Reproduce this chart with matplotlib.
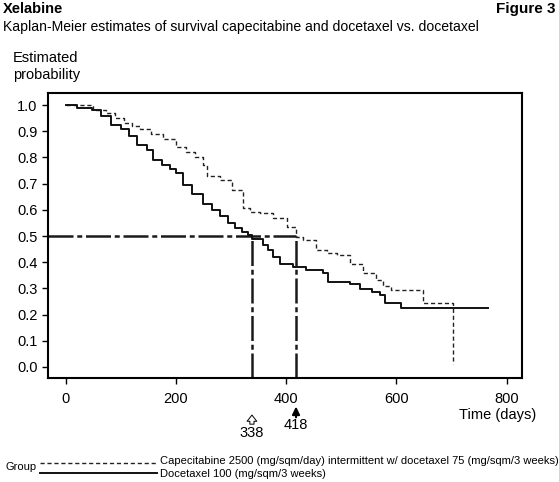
import numpy as np
import matplotlib
matplotlib.use("Agg")
import matplotlib.pyplot as plt

plt.rcParams['font.family'] = ['Liberation Sans Narrow', 'Liberation Sans', 'DejaVu Sans']

# Kaplan-Meier step points
# Docetaxel 100 (solid)
doc_t = [0, 20, 47, 65, 82, 101, 115, 129, 147, 159, 175, 190, 201, 213, 230, 250, 265, 280,
         295, 307, 320, 331, 338, 358, 368, 377, 389, 413, 437, 467, 476, 516, 534, 555, 570,
         579, 609, 767]
doc_s = [1.0, 0.99, 0.98, 0.96, 0.924, 0.907, 0.88, 0.847, 0.83, 0.79, 0.77, 0.755, 0.739, 0.695,
         0.66, 0.624, 0.60, 0.576, 0.55, 0.529, 0.515, 0.505, 0.49, 0.466, 0.445, 0.42, 0.395, 0.38,
         0.37, 0.36, 0.325, 0.315, 0.296, 0.287, 0.275, 0.245, 0.224, 0.224]

# Capecitabine + docetaxel (dashed)
cap_t = [0, 50, 74, 90, 105, 120, 135, 155, 177, 201, 219, 235, 250, 256, 280, 301, 322, 334,
         353, 377, 401, 418, 431, 455, 475, 492, 516, 540, 564, 576, 591, 648, 703]
cap_s = [1.0, 0.98, 0.968, 0.95, 0.93, 0.92, 0.91, 0.89, 0.872, 0.84, 0.82, 0.80, 0.77, 0.73,
         0.714, 0.676, 0.606, 0.593, 0.586, 0.567, 0.535, 0.495, 0.485, 0.447, 0.435, 0.427, 0.395,
         0.36, 0.332, 0.309, 0.294, 0.245, 0.011]

medians = [338, 418]
median_prob = 0.5

x_ticks = [0, 200, 400, 600, 800]
y_ticks = [0.0, 0.1, 0.2, 0.3, 0.4, 0.5, 0.6, 0.7, 0.8, 0.9, 1.0]

cap_label = "Capecitabine 2500 (mg/sqm/day) intermittent w/ docetaxel 75 (mg/sqm/3 weeks)"
doc_label = "Docetaxel 100 (mg/sqm/3 weeks)"

fig = plt.figure(figsize=(5.59, 4.82), dpi=100)
ax = fig.add_axes([48/559, 1-378/482, (522-48)/559, (378-93)/482])

xmin, xmax = -32, 828
ymin, ymax = -0.042, 1.046
ax.set_xlim(xmin, xmax)
ax.set_ylim(ymin, ymax)

# median reference lines
mls = (0, (10, 1.5, 2, 1.5))
ax.plot([xmin, max(medians)], [median_prob, median_prob], color='#1a1a1a', lw=1.8, ls=mls)
for m in medians:
    ax.plot([m, m], [ymin, median_prob], color='#1a1a1a', lw=1.8, ls=mls)

ax.step(cap_t, cap_s, where='post', color='#222222', lw=1.0, ls=(0, (3, 2)))
ax.step(doc_t, doc_s, where='post', color='#111111', lw=1.4)

ax.set_xticks(x_ticks)
ax.set_yticks(y_ticks)
ax.set_yticklabels(["%.1f" % v for v in y_ticks])
ax.tick_params(direction='out', length=4, width=1, labelsize=10.5)
ax.tick_params(axis='x', pad=6)
for sp in ax.spines.values():
    sp.set_linewidth(1.5)

# median annotations below the axis
trans = ax.get_xaxis_transform()
ax.annotate("", xy=(338, -0.130), xycoords=trans, xytext=(338, -0.162), textcoords=trans,
            arrowprops=dict(arrowstyle="simple,head_length=0.45,head_width=0.7,tail_width=0.3",
                            fc='white', ec='black', lw=0.7, shrinkA=0, shrinkB=0),
            annotation_clip=False)
ax.text(338, -0.170, "338", transform=trans, ha='center', va='top', fontsize=10.5)
ax.annotate("", xy=(418, -0.100), xycoords=trans, xytext=(418, -0.138), textcoords=trans,
            arrowprops=dict(arrowstyle="-|>,head_length=0.45,head_width=0.22",
                            fc='black', ec='black', lw=1.5, shrinkA=0, shrinkB=0),
            annotation_clip=False)
ax.text(418, -0.140, "418", transform=trans, ha='center', va='top', fontsize=10.5)

fig.text(3/559, 1-2/482, "Xelabine", ha='left', va='top', fontsize=10.5, fontweight='bold')
fig.text(556/559, 1-2/482, "Figure 3", ha='right', va='top', fontsize=11, fontweight='bold')
fig.text(3/559, 1-20/482, "Kaplan-Meier estimates of survival capecitabine and docetaxel vs. docetaxel",
         ha='left', va='top', fontsize=10.1)
fig.text(13/559, 1-51/482, "Estimated\nprobability", ha='left', va='top', fontsize=10.5,
         linespacing=1.25)
fig.text(498/559, 1-415/482, "Time (days)", ha='center', va='center', fontsize=10.5)

# legend
y1, y2 = 1-463/482, 1-473/482
fig.add_artist(plt.Line2D([40/559, 157/559], [y1, y1], color='#222222', lw=1.0, ls=(0, (3, 2))))
fig.add_artist(plt.Line2D([40/559, 157/559], [y2, y2], color='#111111', lw=1.4))
fig.text(160/559, 1-461/482, cap_label, ha='left', va='center', fontsize=8)
fig.text(160/559, 1-474/482, doc_label, ha='left', va='center', fontsize=8)
fig.text(5/559, 1-467/482, "Group", ha='left', va='center', fontsize=8)

fig.savefig("out.png", dpi=100)
